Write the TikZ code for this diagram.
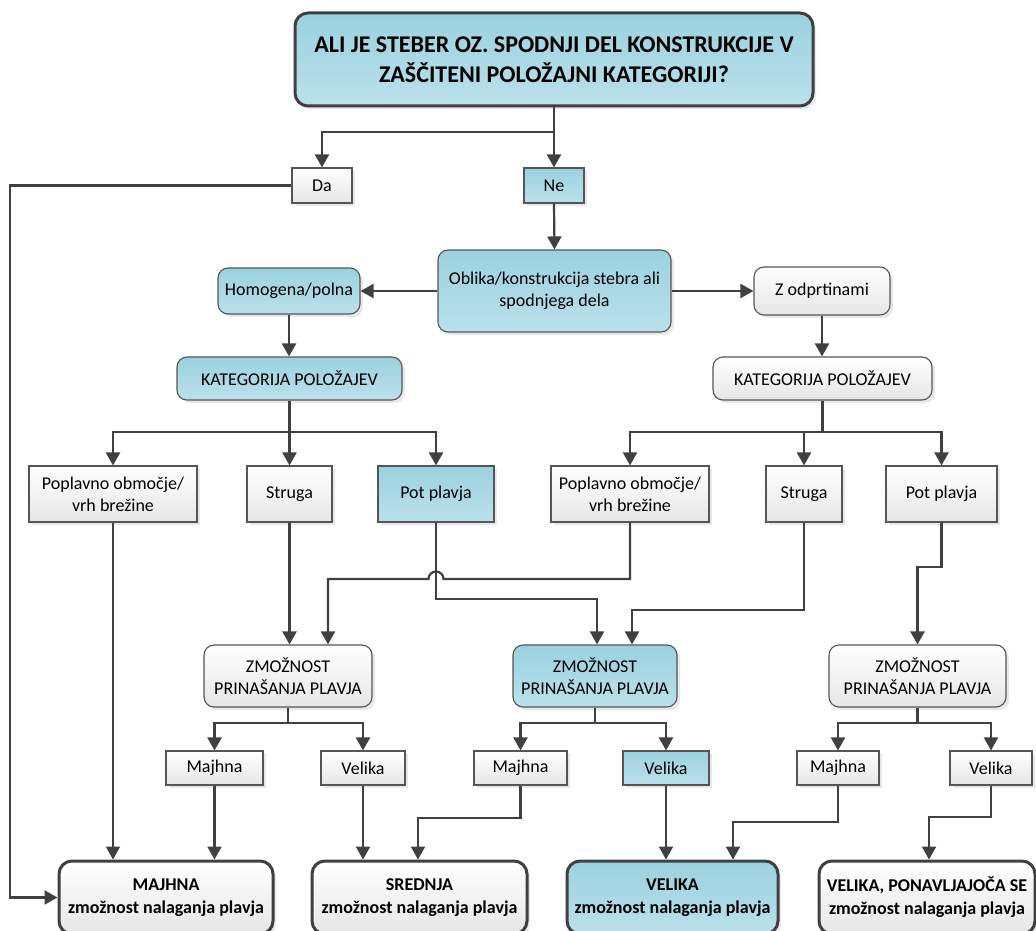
\documentclass[tikz,border=0pt]{standalone}
\usepackage{fontspec}
\setmainfont{Carlito}
\usetikzlibrary{arrows.meta,shadows,calc}

\definecolor{linegray}{HTML}{404040}
\definecolor{edgegray}{HTML}{555555}
\definecolor{blueTop}{HTML}{9BD1DF}
\definecolor{blueBot}{HTML}{BAE1EB}
\definecolor{greyBot}{HTML}{E6E6E6}
\definecolor{shadowgray}{HTML}{D2D2D2}

\begin{document}
\begin{tikzpicture}[x=1pt,y=-1pt,
  wh/.style 2 args={minimum width=#1pt, minimum height=#2pt},
  base/.style={draw=edgegray, line width=1.1pt, inner sep=0pt, align=center,
    font=\fontsize{18}{22}\selectfont,
    drop shadow={shadow xshift=3pt, shadow yshift=-3pt, fill=shadowgray}},
  whitebox/.style={base, rectangle, top color=white, bottom color=greyBot},
  bluebox/.style={base, rectangle, top color=blueTop, bottom color=blueBot},
  whiteround/.style={whitebox, rounded corners=10pt},
  blueround/.style={bluebox, rounded corners=10pt},
  heavy/.style={draw=linegray, line width=3pt, rounded corners=13pt},
  titlebox/.style={bluebox, heavy, font=\fontsize{24}{30}\selectfont\bfseries},
  endwhite/.style={whitebox, heavy, font=\fontsize{18}{23}\selectfont\bfseries},
  endblue/.style={bluebox, heavy, font=\fontsize{18}{23}\selectfont\bfseries},
  ln/.style={draw=linegray, line width=2.2pt},
  arr/.style={ln, -{Triangle[length=13pt,width=14pt]}}
]
\useasboundingbox (0,0) rectangle (1036,931);

% question
\node[titlebox, wh={518}{93}] (q) at (554,59.5)
  {ALI JE STEBER OZ. SPODNJI DEL KONSTRUKCIJE V\\ZAŠČITENI POLOŽAJNI KATEGORIJI?};
\node[whitebox, wh={60}{35}] (da) at (322,185.5) {Da};
\node[bluebox, wh={60}{35}] (ne) at (554,185.5) {Ne};

% construction type
\node[blueround, wh={233}{82}] (obl) at (554.5,291) {Oblika/konstrukcija stebra ali\\spodnjega dela};
\node[blueround, wh={142}{46}] (hom) at (289,291) {Homogena/polna};
\node[whiteround, wh={136}{48}] (zodp) at (822,291) {Z odprtinami};

% location categories
\node[blueround, wh={225}{43}] (katL) at (289.5,378.5) {KATEGORIJA POLOŽAJEV};
\node[whiteround, wh={219}{43}] (katR) at (822.5,378.5) {KATEGORIJA POLOŽAJEV};

\node[whitebox, wh={168}{56}] (popL) at (113,494) {Poplavno območje/\\vrh brežine};
\node[whitebox, wh={85}{56}] (strL) at (289.5,494) {Struga};
\node[bluebox, wh={116}{56}] (potL) at (436,494) {Pot plavja};
\node[whitebox, wh={158}{56}] (popR) at (630,494) {Poplavno območje/\\vrh brežine};
\node[whitebox, wh={76}{56}] (strR) at (804,494) {Struga};
\node[whitebox, wh={111}{56}] (potR) at (941.5,494) {Pot plavja};

% debris supply
\node[whiteround, wh={168}{62}] (zmL) at (288,676) {ZMOŽNOST\\PRINAŠANJA PLAVJA};
\node[blueround, wh={164}{62}] (zmM) at (595,676) {ZMOŽNOST\\PRINAŠANJA PLAVJA};
\node[whiteround, wh={177}{62}] (zmR) at (917.5,676) {ZMOŽNOST\\PRINAŠANJA PLAVJA};

\node[whitebox, wh={97}{34}] (majL) at (214.5,768) {Majhna};
\node[whitebox, wh={84}{34}] (velL) at (363,768) {Velika};
\node[whitebox, wh={93}{34}] (majM) at (520.5,768) {Majhna};
\node[bluebox, wh={86}{34}] (velM) at (666,768) {Velika};
\node[whitebox, wh={82}{34}] (majR) at (838,768) {Majhna};
\node[whitebox, wh={82}{34}] (velR) at (991,768) {Velika};

% results
\node[endwhite, wh={214}{73}] (resA) at (166,897.5) {MAJHNA\\zmožnost nalaganja plavja};
\node[endwhite, wh={215}{73}] (resB) at (419.5,897.5) {SREDNJA\\zmožnost nalaganja plavja};
\node[endblue, wh={211}{73}] (resC) at (672.5,897.5) {VELIKA\\zmožnost nalaganja plavja};
\node[endwhite, wh={216}{73}] (resD) at (927,897.5) {VELIKA, PONAVLJAJOČA SE\\zmožnost nalaganja plavja};

% connectors: question
\draw[arr] (q.south) -- (ne.north);
\draw[arr] (q.south |- 0,132) -| (da.north);
\draw[arr] (da.west) -- (da.west -| 10,0) |- (resA.west);
\draw[arr] (ne.south) -- (obl.north);
\draw[arr] (obl.west) -- (hom.east);
\draw[arr] (obl.east) -- (zodp.west);
\draw[arr] (hom.south) -- (hom.south |- katL.north);
\draw[arr] (zodp.south) -- (zodp.south |- katR.north);

% connectors: categories
\draw[arr] (katL.south) -- (katL.south |- strL.north);
\draw[arr] (katL.south |- 0,432) -| (popL.north);
\draw[arr] (katL.south |- 0,432) -| (potL.north);
\draw[ln] (katR.south) -- (katR.south |- 0,432);
\draw[arr] (katR.south |- 0,432) -| (popR.north);
\draw[arr] (katR.south |- 0,432) -| (strR.north);
\draw[arr] (katR.south |- 0,432) -| (potR.north);

% connectors: categories to debris supply
\draw[arr] (popL.south) -- (popL.south |- resA.north);
\draw[arr] (strL.south) -- (strL.south |- zmL.north);
\draw[arr] (potL.south) |- (597,599) -- (597,599 |- zmM.north);
\draw[arr] (popR.south) |- (443.5,579) arc[start angle=0, end angle=180, radius=7.5pt]
  -- (328,579) -- (328,579 |- zmL.north);
\draw[arr] (strR.south) |- (632,610) -- (632,610 |- zmM.north);
\draw[arr] (potR.south) |- (917.5,567) -- (zmR.north);

% connectors: debris supply to size
\draw[ln] (zmL.south) -- (zmL.south |- 0,723);
\draw[arr] (zmL.south |- 0,723) -| (majL.north);
\draw[arr] (zmL.south |- 0,723) -| (velL.north);
\draw[ln] (zmM.south) -- (zmM.south |- 0,723);
\draw[arr] (zmM.south |- 0,723) -| (majM.north);
\draw[arr] (zmM.south |- 0,723) -| (velM.north);
\draw[ln] (zmR.south) -- (zmR.south |- 0,723);
\draw[arr] (zmR.south |- 0,723) -| (majR.north);
\draw[arr] (zmR.south |- 0,723) -| (velR.north);

% connectors: size to results
\draw[arr] (majL.south) -- (majL.south |- resA.north);
\draw[arr] (velL.south) -- (velL.south |- resB.north);
\draw[arr] (majM.south) |- (418,818) -- (418,818 |- resB.north);
\draw[arr] (velM.south) -- (velM.south |- resC.north);
\draw[arr] (majR.south) |- (733,822) -- (733,822 |- resC.north);
\draw[arr] (velR.south) |- (929,817) -- (929,817 |- resD.north);
\end{tikzpicture}
\end{document}
